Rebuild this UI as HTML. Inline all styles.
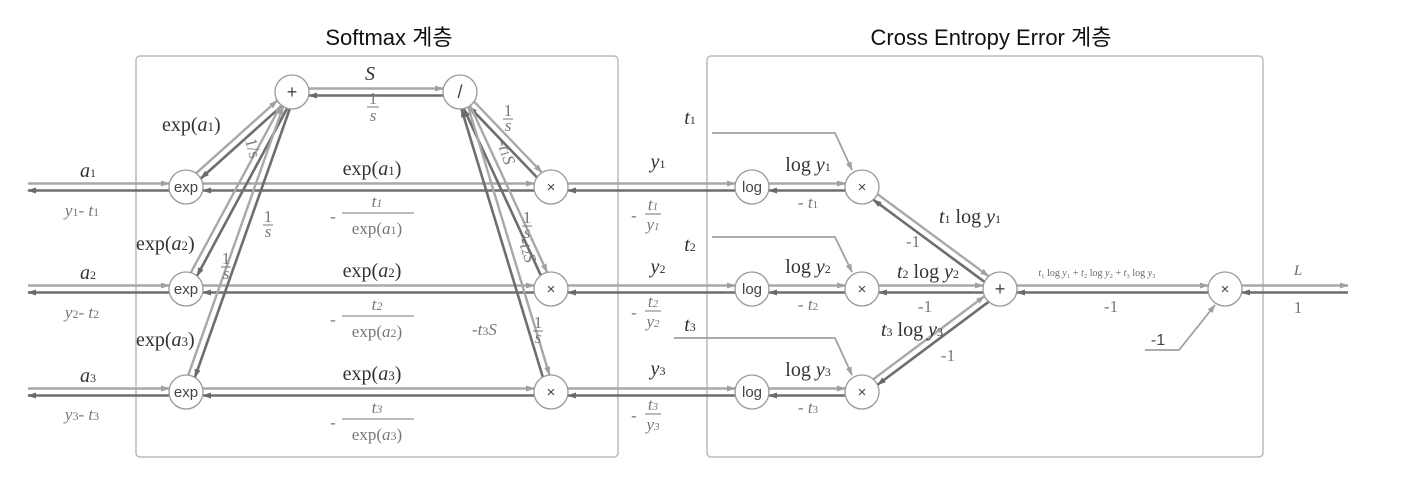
<!DOCTYPE html>
<html><head><meta charset="utf-8">
<style>
html,body{margin:0;padding:0;background:#fff;}
svg{display:block;}
.t{font-family:"Liberation Sans","Noto Sans CJK KR",sans-serif;font-size:22px;fill:#111;}
.m{font-family:"Liberation Serif",serif;font-size:20px;fill:#333;}
.g{font-family:"Liberation Serif",serif;font-size:17px;fill:#777;}
.i{font-style:italic;}
.n{font-family:"Liberation Sans",sans-serif;font-size:15px;fill:#444;}
</style></head><body>
<svg id="s" width="1410" height="484" viewBox="0 0 1410 484" xmlns="http://www.w3.org/2000/svg">
<defs>
<marker id="af" markerWidth="9" markerHeight="6" refX="8" refY="3" orient="auto" markerUnits="userSpaceOnUse"><path d="M0,0 L9,3 L0,6 z" fill="#a0a0a0"/></marker>
<marker id="ab" markerWidth="9" markerHeight="6" refX="8" refY="3" orient="auto" markerUnits="userSpaceOnUse"><path d="M0,0 L9,3 L0,6 z" fill="#6a6a6a"/></marker>
</defs>
<rect x="136" y="56" width="482" height="401" rx="4" fill="none" stroke="#bbb" stroke-width="1.5"/>
<rect x="707" y="56" width="556" height="401" rx="4" fill="none" stroke="#bbb" stroke-width="1.5"/>
<text class="t" x="389" y="45" text-anchor="middle">Softmax 계층</text>
<text class="t" x="991" y="45" text-anchor="middle">Cross Entropy Error 계층</text>
<g id="lines"></g>
<g id="nodes" fill="#fff" stroke="#999" stroke-width="1.3"></g>

<g class="n" text-anchor="middle">
<text x="292" y="98" font-size="18">+</text><text x="460" y="98" font-size="18">/</text>
<text x="186" y="192">exp</text><text x="186" y="294">exp</text><text x="186" y="397">exp</text>
<text x="551" y="192">×</text><text x="551" y="294">×</text><text x="551" y="397">×</text>
<text x="752" y="192">log</text><text x="752" y="294">log</text><text x="752" y="397">log</text>
<text x="862" y="192">×</text><text x="862" y="294">×</text><text x="862" y="397">×</text>
<text x="1000" y="295" font-size="18">+</text><text x="1225" y="294">×</text>
</g>

<text class="m i" x="370" y="80" text-anchor="middle">S</text>
<g class="g" text-anchor="middle" font-size="13"><text x="373" y="104">1</text><line x1="367" y1="107" x2="379" y2="107" stroke="#777"/><text x="373" y="121" class="i">s</text></g>
<text class="m" x="162" y="131">exp(<tspan class="i">a</tspan><tspan font-size="13">1</tspan>)</text>
<text class="g" font-size="13" transform="translate(245,140) rotate(75)">1/s</text>
<text class="m" x="372" y="175" text-anchor="middle">exp(<tspan class="i">a</tspan><tspan font-size="13">1</tspan>)</text>
<text class="m" x="372" y="277" text-anchor="middle">exp(<tspan class="i">a</tspan><tspan font-size="13">2</tspan>)</text>
<text class="m" x="372" y="380" text-anchor="middle">exp(<tspan class="i">a</tspan><tspan font-size="13">3</tspan>)</text>
<g class="g" text-anchor="middle">
<text x="333" y="222">-</text><text x="377" y="207" class="i">t<tspan font-size="12">1</tspan></text><line x1="342" y1="213" x2="414" y2="213" stroke="#777"/><text x="377" y="234">exp(<tspan class="i">a</tspan><tspan font-size="12">1</tspan>)</text>
<text x="333" y="325">-</text><text x="377" y="310" class="i">t<tspan font-size="12">2</tspan></text><line x1="342" y1="316" x2="414" y2="316" stroke="#777"/><text x="377" y="337">exp(<tspan class="i">a</tspan><tspan font-size="12">2</tspan>)</text>
<text x="333" y="428">-</text><text x="377" y="413" class="i">t<tspan font-size="12">3</tspan></text><line x1="342" y1="419" x2="414" y2="419" stroke="#777"/><text x="377" y="440">exp(<tspan class="i">a</tspan><tspan font-size="12">3</tspan>)</text>
</g>
<text class="m" x="136" y="250">exp(<tspan class="i">a</tspan><tspan font-size="13">2</tspan>)</text>
<text class="m" x="136" y="346">exp(<tspan class="i">a</tspan><tspan font-size="13">3</tspan>)</text>
<g class="g" text-anchor="middle" font-size="13">
<text x="268" y="222">1</text><line x1="263" y1="225" x2="273" y2="225" stroke="#777"/><text x="268" y="237" class="i">s</text>
<text x="226" y="264">1</text><line x1="221" y1="267" x2="231" y2="267" stroke="#777"/><text x="226" y="279" class="i">s</text>
<text x="508" y="116">1</text><line x1="503" y1="119" x2="513" y2="119" stroke="#777"/><text x="508" y="131" class="i">s</text>
<text x="527" y="223">1</text><line x1="522" y1="226" x2="532" y2="226" stroke="#777"/><text x="527" y="238" class="i">s</text>
<text x="538" y="328">1</text><line x1="533" y1="331" x2="543" y2="331" stroke="#777"/><text x="538" y="343" class="i">s</text>
</g>
<text class="g" transform="translate(497,142) rotate(72)">-<tspan class="i">t</tspan><tspan font-size="12">1</tspan><tspan class="i">S</tspan></text>
<text class="g" transform="translate(518,240) rotate(72)">-<tspan class="i">t</tspan><tspan font-size="12">2</tspan><tspan class="i">S</tspan></text>
<text class="g" x="472" y="335">-<tspan class="i">t</tspan><tspan font-size="12">3</tspan><tspan class="i">S</tspan></text>

<g class="m" text-anchor="middle">
<text x="88" y="177" class="i">a<tspan font-size="12" font-style="normal">1</tspan></text>
<text x="88" y="279" class="i">a<tspan font-size="12" font-style="normal">2</tspan></text>
<text x="88" y="382" class="i">a<tspan font-size="12" font-style="normal">3</tspan></text>
</g>
<g class="g" text-anchor="middle">
<text x="82" y="216"><tspan class="i">y</tspan><tspan font-size="12">1</tspan>- <tspan class="i">t</tspan><tspan font-size="12">1</tspan></text>
<text x="82" y="318"><tspan class="i">y</tspan><tspan font-size="12">2</tspan>- <tspan class="i">t</tspan><tspan font-size="12">2</tspan></text>
<text x="82" y="420"><tspan class="i">y</tspan><tspan font-size="12">3</tspan>- <tspan class="i">t</tspan><tspan font-size="12">3</tspan></text>
</g>

<g class="m" text-anchor="middle">
<text x="658" y="168" class="i">y<tspan font-size="12" font-style="normal">1</tspan></text>
<text x="658" y="273" class="i">y<tspan font-size="12" font-style="normal">2</tspan></text>
<text x="658" y="375" class="i">y<tspan font-size="12" font-style="normal">3</tspan></text>
<text x="690" y="124" class="i">t<tspan font-size="12" font-style="normal">1</tspan></text>
<text x="690" y="251" class="i">t<tspan font-size="12" font-style="normal">2</tspan></text>
<text x="690" y="331" class="i">t<tspan font-size="12" font-style="normal">3</tspan></text>
</g>
<g class="g" text-anchor="middle">
<text x="634" y="221">-</text><text x="653" y="210" class="i">t<tspan font-size="11">1</tspan></text><line x1="645" y1="214" x2="661" y2="214" stroke="#777"/><text x="653" y="230" class="i">y<tspan font-size="11">1</tspan></text>
<text x="634" y="318">-</text><text x="653" y="307" class="i">t<tspan font-size="11">2</tspan></text><line x1="645" y1="311" x2="661" y2="311" stroke="#777"/><text x="653" y="327" class="i">y<tspan font-size="11">2</tspan></text>
<text x="634" y="421">-</text><text x="653" y="410" class="i">t<tspan font-size="11">3</tspan></text><line x1="645" y1="414" x2="661" y2="414" stroke="#777"/><text x="653" y="430" class="i">y<tspan font-size="11">3</tspan></text>
</g>

<g class="m" text-anchor="middle">
<text x="808" y="171">log <tspan class="i">y</tspan><tspan font-size="12">1</tspan></text>
<text x="808" y="273">log <tspan class="i">y</tspan><tspan font-size="12">2</tspan></text>
<text x="808" y="376">log <tspan class="i">y</tspan><tspan font-size="12">3</tspan></text>
<text x="970" y="223"><tspan class="i">t</tspan><tspan font-size="12">1</tspan> log <tspan class="i">y</tspan><tspan font-size="12">1</tspan></text>
<text x="928" y="278"><tspan class="i">t</tspan><tspan font-size="12">2</tspan> log <tspan class="i">y</tspan><tspan font-size="12">2</tspan></text>
<text x="912" y="336"><tspan class="i">t</tspan><tspan font-size="12">3</tspan> log <tspan class="i">y</tspan><tspan font-size="12">3</tspan></text>
<text x="1298" y="275" class="i" font-size="15" fill="#666">L</text>
</g>
<g class="g" text-anchor="middle" font-size="15">
<text x="808" y="208">- <tspan class="i">t</tspan><tspan font-size="11">1</tspan></text>
<text x="808" y="310">- <tspan class="i">t</tspan><tspan font-size="11">2</tspan></text>
<text x="808" y="413">- <tspan class="i">t</tspan><tspan font-size="11">3</tspan></text>
<text x="913" y="247">-1</text><text x="925" y="312">-1</text><text x="948" y="361">-1</text>
<text x="1111" y="312">-1</text><text x="1298" y="313">1</text>
</g>
<text x="1097" y="276" text-anchor="middle" font-family="Liberation Serif,serif" font-size="10" fill="#666"><tspan class="i">t</tspan>₁ log <tspan class="i">y</tspan>₁ + <tspan class="i">t</tspan>₂ log <tspan class="i">y</tspan>₂ + <tspan class="i">t</tspan>₃ log <tspan class="i">y</tspan>₃</text>
<text x="1158" y="345" text-anchor="middle" font-family="Liberation Sans,sans-serif" font-size="16" fill="#444">-1</text>

<g fill="none" stroke="#a0a0a0" stroke-width="1.8">
<polyline points="712,133 835,133 852,170" marker-end="url(#af)"/>
<polyline points="712,237 835,237 852,272" marker-end="url(#af)"/>
<polyline points="674,338 835,338 852,375" marker-end="url(#af)"/>
<polyline points="1145,350 1179,350 1215,305" marker-end="url(#af)"/>
</g>
</svg>
<script>
var NS="http://www.w3.org/2000/svg",R=17;
var L=document.getElementById("lines"),N=document.getElementById("nodes");
function ln(x1,y1,x2,y2,c,w,m){var e=document.createElementNS(NS,"line");e.setAttribute("x1",x1);e.setAttribute("y1",y1);e.setAttribute("x2",x2);e.setAttribute("y2",y2);e.setAttribute("stroke",c);e.setAttribute("stroke-width",w);e.setAttribute("marker-end","url(#"+m+")");L.appendChild(e);}
function pair(a,b,ra,rb){var dx=b[0]-a[0],dy=b[1]-a[1],d=Math.hypot(dx,dy),ux=dx/d,uy=dy/d,px=uy,py=-ux,o=3.5;
var sx=a[0]+ux*ra,sy=a[1]+uy*ra,ex=b[0]-ux*rb,ey=b[1]-uy*rb;
if(py>0){px=-px;py=-py;}
ln(sx+px*o,sy+py*o,ex+px*o,ey+py*o,"#a8a8a8",2.4,"af");
ln(ex-px*o,ey-py*o,sx-px*o,sy-py*o,"#6e6e6e",2.6,"ab");}
var Y=[187,289,392],P=[292,92],D=[460,92],P2=[1000,289],M=[1225,289];
pair(P,D,R,R);
for(var i=0;i<3;i++){var y=Y[i],E=[186,y],X=[551,y],G=[752,y],T=[862,y];
pair([28,y],E,0,R);pair(E,P,R,R);pair(E,X,R,R);pair(D,X,R,R);pair(X,G,R,R);pair(G,T,R,R);pair(T,P2,R,R);}
pair(P2,M,R,R);pair(M,[1348,289],R,0);
var ns=[P,D,P2,M];for(var i=0;i<3;i++){ns.push([186,Y[i]],[551,Y[i]],[752,Y[i]],[862,Y[i]]);}
ns.forEach(function(p){var c=document.createElementNS(NS,"circle");c.setAttribute("cx",p[0]);c.setAttribute("cy",p[1]);c.setAttribute("r",R);N.appendChild(c);});
</script>
</body></html>
